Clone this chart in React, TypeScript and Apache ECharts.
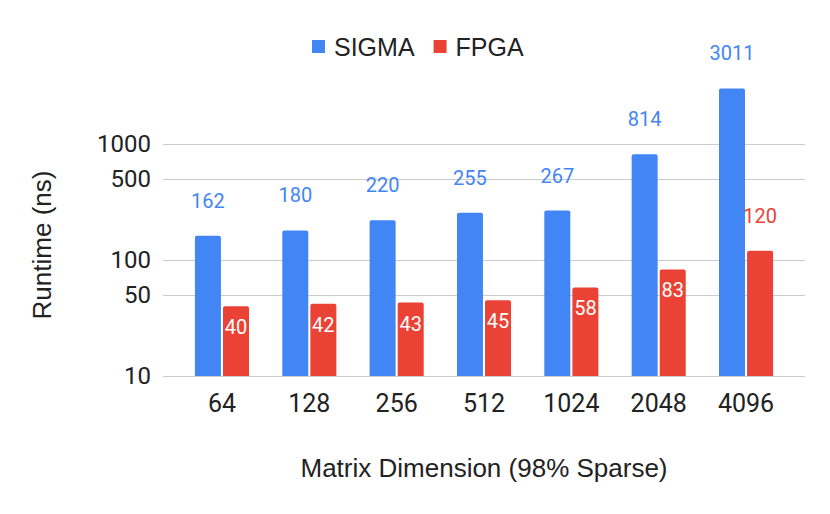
import React, { useEffect, useRef } from 'react';
import * as echarts from 'echarts';

const categories = ['64', '128', '256', '512', '1024', '2048', '4096'];
const sigmaValues = [162, 180, 220, 255, 267, 814, 3011];
const fpgaValues = [40, 42, 43, 45, 58, 83, 120];
const yTickValues = [10, 50, 100, 500, 1000];
const seriesNames = ['SIGMA', 'FPGA'];
const seriesColors = ['#4285F4', '#EA4335'];
const fpgaLabelAbove = [false, false, false, false, false, false, true];
const xTitle = 'Matrix Dimension (98% Sparse)';
const yTitle = 'Runtime (ns)';

export default function App() {
  const ref = useRef<HTMLDivElement>(null);
  useEffect(() => {
    document.body.style.margin = '0';
    const chart = echarts.init(ref.current as HTMLDivElement, null, { renderer: 'svg' });
    const numFont = 'Roboto, "Liberation Sans", Arial, sans-serif';
    const txtFont = '"Liberation Sans", Arial, sans-serif';
    chart.setOption({
      animation: false,
      backgroundColor: '#ffffff',
      legend: {
        data: seriesNames,
        left: 307,
        top: 29,
        icon: 'rect',
        itemWidth: 13,
        itemHeight: 13,
        itemGap: 19,
        textStyle: { fontSize: 25, fontFamily: txtFont, color: '#222222', padding: [0, 0, 0, 4] },
      },
      grid: [
        { left: 163, right: 25, top: 28, bottom: 138 },
        { left: 178.3, right: 40.3, top: 28, bottom: 138 },
      ],
      xAxis: [
        { gridIndex: 0, type: 'category', data: categories, show: false },
        {
          gridIndex: 1,
          type: 'category',
          data: categories,
          axisLine: { show: false },
          axisTick: { show: false },
          axisLabel: { fontSize: 25, fontFamily: numFont, color: '#222222', margin: 15 },
          name: xTitle,
          nameLocation: 'middle',
          nameGap: 79,
          nameTextStyle: { fontSize: 26, fontFamily: txtFont, color: '#222222' },
        },
      ],
      yAxis: [
        {
          gridIndex: 0,
          type: 'log',
          min: 10,
          max: 10000,
          axisLine: { show: false },
          axisTick: { show: false, customValues: yTickValues },
          axisLabel: {
            customValues: yTickValues,
            formatter: (v: number) => String(v),
            fontSize: 24,
            fontFamily: numFont,
            color: '#222222',
            margin: 12,
          },
          splitLine: { show: true, lineStyle: { color: '#cccccc', width: 1 } },
        },
        { gridIndex: 1, type: 'log', min: 10, max: 10000, show: false, splitLine: { show: false } },
      ],
      graphic: [
        {
          type: 'text',
          x: 42,
          y: 245,
          rotation: Math.PI / 2,
          style: {
            text: yTitle,
            fontSize: 26,
            fontFamily: txtFont,
            fill: '#222222',
            align: 'center',
            verticalAlign: 'middle',
          },
        },
      ],
      series: [
        {
          name: seriesNames[0],
          type: 'bar',
          xAxisIndex: 1,
          yAxisIndex: 1,
          data: sigmaValues,
          barWidth: 26,
          barGap: '8%',
          itemStyle: { color: seriesColors[0], borderRadius: [2, 2, 0, 0] },
          label: {
            show: true,
            position: 'top',
            distance: 25,
            color: seriesColors[0],
            fontSize: 20,
            fontFamily: numFont,
          },
        },
        {
          name: seriesNames[1],
          type: 'bar',
          xAxisIndex: 1,
          yAxisIndex: 1,
          data: fpgaValues.map((v, i) =>
            fpgaLabelAbove[i]
              ? { value: v, label: { position: 'top', distance: 25, color: seriesColors[1] } }
              : v
          ),
          barWidth: 26,
          itemStyle: { color: seriesColors[1], borderRadius: [2, 2, 0, 0] },
          label: {
            show: true,
            position: 'insideTop',
            distance: 11,
            color: '#ffffff',
            fontSize: 20,
            fontFamily: numFont,
          },
        },
      ],
    });
    return () => chart.dispose();
  }, []);
  return <div ref={ref} style={{ width: 830, height: 514 }} />;
}
